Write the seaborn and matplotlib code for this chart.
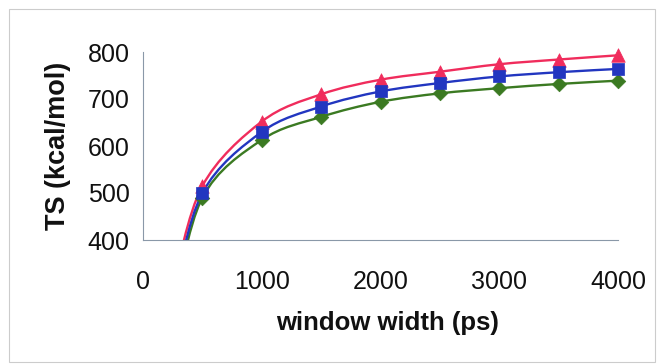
import numpy as np
import pandas as pd
import matplotlib
matplotlib.use("Agg")
import matplotlib.pyplot as plt
from matplotlib.path import Path
from matplotlib.patches import PathPatch, Rectangle
import seaborn as sns

# window widths (ps); the first point lies below the visible range
window = [250, 500, 1000, 1500, 2000, 2500, 3000, 3500, 4000]
ts_red = [300, 515, 652, 710, 741, 758, 774, 784, 793]
ts_blue = [275, 500, 630, 684, 716, 734, 748, 757, 764]
ts_green = [250, 490, 613, 662, 694, 712, 723, 732, 739]

x_ticks = [0, 1000, 2000, 3000, 4000]
y_ticks = [400, 500, 600, 700, 800]

series = [
    ("red", ts_red, "#f02c5c", "^", 95),
    ("green", ts_green, "#3b7a22", "D", 55),
    ("blue", ts_blue, "#2236c0", "s", 85),
]

rows = []
for name, vals, *_ in series:
    for w, v in zip(window, vals):
        rows.append({"series": name, "window": w, "TS": v})
df = pd.DataFrame(rows)

sns.set_style("white")
plt.rcParams["font.family"] = ["Liberation Sans", "DejaVu Sans"]

W, H = 664, 364
fig = plt.figure(figsize=(W / 100, H / 100), dpi=100)
fig.patch.set_facecolor("white")

# chart frame
fig.add_artist(Rectangle((9 / W, 2 / H), 646 / W, 353 / H, transform=fig.transFigure,
                         fill=False, edgecolor="#cccccc", lw=0.8))

x0, x1 = 143, 618
y_top, y_bot = 52, 240
xmax = 4120
px_per_unit = (x1 - x0) / 4000
ax = fig.add_axes([x0 / W, (H - y_bot) / H, (xmax * px_per_unit) / W, (y_bot - y_top) / H])
ax.set_facecolor("none")


def smooth_path(xs, ys):
    """Catmull-Rom style smoothed line as cubic Bezier segments."""
    pts = np.column_stack([xs, ys]).astype(float)
    n = len(pts)
    verts = [pts[0]]
    codes = [Path.MOVETO]
    for i in range(n - 1):
        p_prev = pts[i - 1] if i > 0 else pts[i]
        p_next = pts[i + 2] if i + 2 < n else pts[i + 1]
        c1 = pts[i] + (pts[i + 1] - p_prev) / 6
        c2 = pts[i + 1] - (p_next - pts[i]) / 6
        verts += [c1, c2, pts[i + 1]]
        codes += [Path.CURVE4] * 3
    return Path(verts, codes)


for name, vals, color, marker, size in series:
    sub = df[df.series == name]
    ax.add_patch(PathPatch(smooth_path(sub.window, sub.TS), facecolor="none",
                           edgecolor=color, lw=1.7, zorder=2))

for name, vals, color, marker, size in series:
    sub = df[(df.series == name) & (df.TS >= y_ticks[0])]
    sns.scatterplot(data=sub, x="window", y="TS", marker=marker, color=color,
                    s=size, edgecolor=color, linewidth=0.5, ax=ax, zorder=3,
                    clip_on=False, legend=False)

ax.set_xlim(0, xmax)
ax.set_ylim(400, 800)
ax.set_xticks(x_ticks)
ax.set_yticks(y_ticks)
ax.set_xticklabels([str(t) for t in x_ticks])
ax.set_yticklabels([str(t) for t in y_ticks])

for s in ["top", "right"]:
    ax.spines[s].set_visible(False)
for s in ["left", "bottom"]:
    ax.spines[s].set_color("#8a98a8")
    ax.spines[s].set_linewidth(0.8)
ax.spines["bottom"].set_bounds(0, 4000)

ax.tick_params(axis="x", direction="out", length=4.5, width=0.8, color="#8a98a8",
               pad=17, labelsize=18, labelcolor="#111111")
ax.tick_params(axis="y", direction="inout", length=7, width=0.8, color="#8a98a8",
               pad=6, labelsize=18, labelcolor="#111111")

ax.set_xlabel("window width (ps)", fontsize=18.5, fontweight="bold", labelpad=12, color="#111111")
ax.set_ylabel("TS (kcal/mol)", fontsize=19.5, fontweight="bold", labelpad=12, color="#111111")

fig.savefig("out.png", dpi=100, facecolor="white")
